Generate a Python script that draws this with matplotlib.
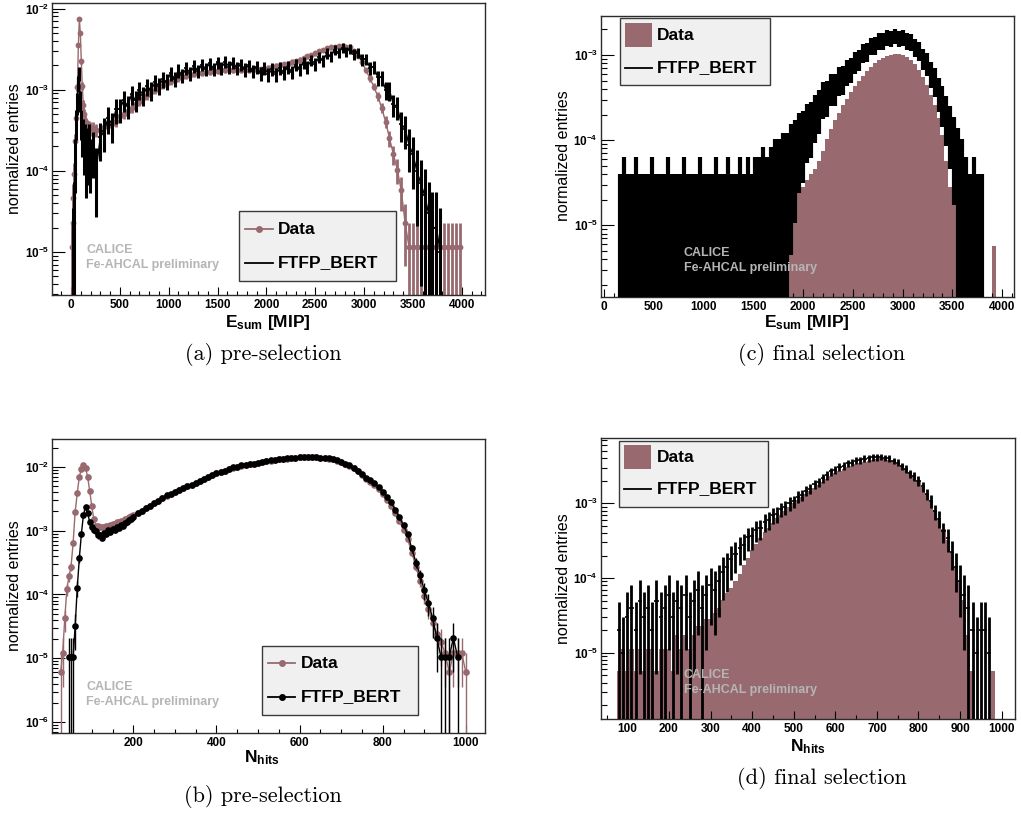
import numpy as np
import matplotlib
matplotlib.use('Agg')
import matplotlib.pyplot as plt
from matplotlib.patches import Rectangle
from matplotlib.lines import Line2D
from matplotlib.ticker import LogLocator, MultipleLocator, FuncFormatter, NullFormatter

plt.rcParams['font.family'] = 'Liberation Sans'
plt.rcParams['font.weight'] = 'bold'
plt.rcParams['mathtext.fontset'] = 'custom'
plt.rcParams['mathtext.rm'] = 'Liberation Sans:bold'
plt.rcParams['mathtext.bf'] = 'Liberation Sans:bold'
plt.rcParams['mathtext.it'] = 'Liberation Sans:bold'

DATA_COL = '#986a6f'

# ---------------- (a) E_sum, pre-selection ----------------
a_x = np.concatenate([np.arange(5, 200, 10), np.arange(220, 4000, 40)])
a_hw = np.concatenate([np.full(20, 5.0), np.full(95, 20.0)])
a_data_unit = 1.15e-5
a_data = [1, 2, 4, 8, 20, 39, 93, 310, 640, 435, 195, 97, 57, 43, 36, 33, 31, 30, 30, 29,
          29, 28, 28, 30, 31, 33, 36, 41, 44, 47,
          52, 58, 62, 69, 74, 81, 87, 93, 98, 105,
          110, 115, 120, 123, 129, 132, 135, 138, 141, 145,
          145, 148, 148, 150, 151, 151, 151, 150, 151, 150,
          151, 152, 155, 155, 158, 162, 166, 170, 174, 178,
          182, 191, 195, 204, 214, 224, 234, 245, 257, 269,
          282, 288, 295, 302, 302, 295, 288, 263, 229, 191,
          150, 120, 95, 72, 52, 35, 22, 14, 9, 5,
          2, 1, 1, 1, 1, 1, 1, 1, 1, 1,
          1, 1, 1, 1, 1]
a_mc_unit = 1.0e-5
a_mc_err_scale = 2.5   # weighted MC: errors larger than plain sqrt(N)
a_mc = [0, 0, 1, 3, 15, 40, 70, 120, 158, 75, 40, 28, 30, 20, 25, 14, 22, 17, 25, 15,
        19, 11, 26, 31, 45, 37, 57, 58, 74, 63,
        88, 74, 99, 86, 110, 98, 124, 112, 134, 126,
        160, 136, 172, 150, 184, 160, 196, 170, 204, 180,
        212, 182, 218, 188, 220, 190, 214, 184, 206, 178,
        200, 170, 192, 160, 186, 154, 180, 156, 184, 162,
        192, 166, 204, 182, 216, 192, 232, 208, 254, 230,
        280, 258, 310, 286, 330, 294, 320, 274, 288, 236,
        240, 186, 192, 142, 142, 100, 98, 66, 62, 38,
        33, 21, 16, 10, 7, 5, 3, 2, 2, 1,
        0, 0, 0, 0, 0]

# ---------------- (b) N_hits, pre-selection ----------------
b_x = np.concatenate([np.arange(20, 205, 5), np.arange(210, 1010, 10)])
b_hw = np.concatenate([np.full(37, 2.5), np.full(80, 5.0)])
b_data_unit = 6.0e-6
b_data = [0, 1, 2, 7, 20, 32, 45, 105, 330, 640, 1170, 1540, 1780, 1600, 1160, 700, 400,
          250, 200, 195, 190, 190, 190, 195, 200, 204, 209, 214, 224, 229, 234, 240,
          251, 257, 269, 282, 288,
          316, 339, 372, 407, 447, 490, 537, 589, 631, 676,
          724, 776, 832, 871, 933, 1000, 1072, 1148, 1230, 1318,
          1380, 1445, 1549, 1622, 1660, 1738, 1778, 1820, 1862, 1905,
          1995, 2042, 2089, 2138, 2188, 2188, 2239, 2291, 2291, 2344,
          2344, 2344, 2344, 2344, 2291, 2291, 2239, 2188, 2089, 1995,
          1862, 1738, 1585, 1413, 1259, 1080, 970, 860, 740, 620,
          510, 410, 315, 235, 172, 122, 75, 45, 27, 16,
          10, 6, 4, 3, 2, 1, 2, 2, 2, 1]
b_mc_unit = 1.05e-5
b_mc = [0, 0, 0, 0, 0, 1, 1, 1, 3, 12, 35, 85, 170, 225, 180, 130, 110,
        96, 94, 80, 82, 74, 86, 84, 96, 92, 102, 98, 108, 106, 116, 114,
        126, 132, 142, 146, 158,
        182, 195, 214, 234, 257, 282, 309, 339, 363, 389,
        416, 446, 478, 501, 537, 575, 616, 660, 707, 758,
        793, 831, 891, 933, 955, 1000, 1022, 1047, 1071, 1096,
        1148, 1175, 1202, 1230, 1259, 1259, 1288, 1318, 1318, 1349,
        1349, 1349, 1349, 1349, 1318, 1318, 1288, 1259, 1202, 1148,
        1071, 1000, 912, 813, 724, 646, 589, 525, 457, 389,
        324, 263, 204, 155, 115, 83, 50, 30, 19, 11,
        7, 4, 2, 1, 1, 1, 2, 1, 0, 0]

# ---------------- (c) E_sum, final selection ----------------
c_x = np.arange(160, 4000, 40)
c_hw = np.full(96, 20.0)
c_data_unit = 5.7e-6
c_data = [0, 0, 1, 0, 0, 0, 0, 0, 0, 0,
          0, 1, 0, 0, 0, 0, 0, 0, 0, 0,
          0, 0, 0, 1, 0, 0, 0, 0, 0, 0,
          0, 1, 0, 0, 1, 0, 1, 0, 2, 1,
          2, 2, 3, 3, 4, 5, 5, 6, 7, 8,
          10, 13, 18, 24, 30, 37, 45, 54, 64, 75,
          87, 100, 113, 126, 140, 152, 163, 172, 178, 182,
          182, 178, 168, 155, 138, 118, 98, 78, 60, 46,
          32, 20, 10, 5, 3, 0, 0, 0, 0, 0,
          1, 0, 0, 0, 1, 0]
c_mc_unit = 1.15e-5
c_mc_err_scale = 2.5
c_mc = [1, 2, 1, 1, 2, 1, 1, 1, 2, 1,
        1, 1, 2, 1, 1, 1, 2, 1, 1, 1,
        2, 1, 1, 1, 2, 1, 1, 2, 1, 1,
        2, 1, 2, 1, 2, 2, 3, 2, 3, 4,
        4, 5, 5, 7, 8, 10, 11, 14, 15, 19,
        22, 29, 30, 37, 37, 46, 47, 57, 60, 73,
        78, 94, 97, 113, 114, 129, 129, 141, 138, 147,
        139, 141, 129, 125, 109, 100, 80, 71, 54, 45,
        33, 25, 18, 13, 9, 6, 4, 2, 1, 2,
        1, 1, 0, 0, 0, 0]

# ---------------- (d) N_hits, final selection ----------------
d_x = np.arange(80, 1010, 10)
d_hw = np.full(93, 5.0)
d_data_unit = 5.7e-6
d_data = [1, 2, 1, 2, 1, 2, 1, 2, 2, 1,
          2, 2, 2, 1, 3, 2, 3, 2, 3, 4,
          4, 5, 5, 6, 7, 9, 11, 13, 16, 20,
          26, 33, 42, 50, 60, 72, 83, 96, 110, 123,
          138, 155, 175, 196, 215, 236, 259, 284, 312, 342,
          375, 411, 440, 472, 506, 530, 555, 581, 608, 622,
          651, 667, 682, 698, 682, 667, 637, 594, 555, 506,
          451, 402, 350, 291, 231, 184, 143, 105, 80, 57,
          39, 25, 16, 9, 3, 1, 0, 0, 0, 0,
          1, 0, 0]
d_mc_unit = 1.0e-5
d_mc_err_scale = 2.0
d_mc = [2, 1, 3, 4, 2, 5, 3, 4, 2, 5,
        3, 4, 6, 3, 5, 4, 6, 3, 5, 7,
        4, 6, 8, 7, 9, 12, 14, 18, 21, 25,
        28, 35, 36, 44, 46, 57, 60, 70, 72, 84,
        88, 100, 106, 122, 130, 148, 157, 181, 192, 218,
        236, 268, 281, 309, 318, 344, 351, 372, 376, 396,
        398, 414, 411, 420, 406, 399, 371, 349, 311, 289,
        251, 231, 201, 168, 132, 108, 78, 62, 42, 34,
        22, 14, 9, 6, 4, 2, 1, 2, 2, 1,
        0, 0, 0]

W, H = 1021, 814
fig = plt.figure(figsize=(W / 100, H / 100), dpi=100)


def fx(p):
    return p / W


def fy(p):
    return 1 - p / H


def make_ax(l, t, r, b, xlim, ylim, xmaj, xmin):
    ax = fig.add_axes([fx(l), fy(b), (r - l) / W, (b - t) / H])
    ax.set_yscale('log')
    ax.set_xlim(*xlim)
    ax.set_ylim(*ylim)
    ax.xaxis.set_major_locator(MultipleLocator(xmaj))
    ax.xaxis.set_minor_locator(MultipleLocator(xmin))
    ax.yaxis.set_major_locator(LogLocator(10, numticks=20))
    ax.yaxis.set_minor_locator(LogLocator(10, subs=np.arange(2, 10), numticks=20))
    ax.yaxis.set_major_formatter(FuncFormatter(lambda v, p: r'$10^{%d}$' % round(np.log10(v))))
    ax.yaxis.set_minor_formatter(NullFormatter())
    ax.tick_params(which='both', direction='in', top=False, right=False, width=0.8, labelsize=8.5)
    ax.tick_params(axis='y', which='major', length=9, pad=2)
    ax.tick_params(axis='y', which='minor', length=4.3)
    ax.tick_params(axis='x', which='major', length=5.8, pad=3)
    ax.tick_params(axis='x', which='minor', length=2.9)
    for s in ax.spines.values():
        s.set_linewidth(1.0)
        s.set_color('#2b2b2b')
    return ax


def draw_points(ax, x, hw, counts, unit, color, marker, ms, elw, z, connect, scale=1.0):
    c = np.asarray(counts, float)
    m = c > 0
    x, hw, c = x[m], hw[m], c[m]
    y = c * unit
    e = np.sqrt(c) * unit * scale
    lo = np.where(e >= y, y - 1e-12, e)
    ax.errorbar(x, y, xerr=hw, fmt='none', ecolor=color, elinewidth=min(elw, 1.2), zorder=z)
    ax.errorbar(x, y, yerr=[lo, e], fmt=marker, ms=ms, color=color, ecolor=color, mew=0,
                elinewidth=elw, capsize=1.5, capthick=1.0, zorder=z)
    if connect:
        ax.plot(x, y, color=color, lw=1.0, zorder=z)


def draw_fill(ax, x, hw, counts, unit, color):
    c = np.asarray(counts, float)
    y = np.where(c > 0, c * unit, 1e-12)
    edges = np.append(x - hw, x[-1] + hw[-1])
    ax.stairs(y, edges, fill=True, baseline=1e-12, color=color, lw=0, zorder=1)


def legend(box, rows):
    x0, y0, x1, y1 = box
    fig.add_artist(Rectangle((fx(x0), fy(y1)), (x1 - x0) / W, (y1 - y0) / H,
                             transform=fig.transFigure, fc='#f0f0f0', ec='#3a3a3a', lw=1.0, zorder=5))
    for kind, col, yy, sx0, sx1, tx, label in rows:
        if kind == 'box':
            fig.add_artist(Rectangle((fx(sx0), fy(yy + 12)), (sx1 - sx0) / W, 24 / H,
                                     transform=fig.transFigure, fc=col, ec='none', zorder=6))
        else:
            fig.add_artist(Line2D([fx(sx0), fx(sx1)], [fy(yy), fy(yy)], color=col, lw=1.3,
                                  transform=fig.transFigure, zorder=6))
            if kind == 'linedot':
                fig.add_artist(Line2D([fx((sx0 + sx1) / 2)], [fy(yy)], color=col, marker='o', ms=5,
                                      mew=0, transform=fig.transFigure, zorder=6))
        fig.text(fx(tx), fy(yy), label, fontsize=12.5, ha='left', va='center', zorder=7)


def calice(x, y):
    fig.text(fx(x), fy(y), 'CALICE', fontsize=9, color='#b5b5b5', va='center', zorder=8)
    fig.text(fx(x), fy(y + 15), 'Fe-AHCAL preliminary', fontsize=9, color='#b5b5b5', va='center', zorder=8)


def labels(yx, yy, xx, xy, xtext):
    fig.text(fx(yx), fy(yy), 'normalized entries', rotation=90, fontsize=11.5, weight='normal',
             ha='center', va='center')
    fig.text(fx(xx), fy(xy), xtext, fontsize=12.5, ha='center', va='center')


def caption(x, y, text):
    fig.text(fx(x), fy(y), text, family='cmr10', weight='normal', fontsize=16, ha='center', va='center')


# (a)
ax = make_ax(52, 3, 485, 295, (-195, 4238), (2.95e-6, 1.17e-2), 500, 100)
draw_points(ax, a_x, a_hw, a_data, a_data_unit, DATA_COL, 'o', 4.2, 2.0, 2, True)
draw_points(ax, a_x, a_hw, a_mc, a_mc_unit, 'black', 'none', 0, 2.2, 3, True, a_mc_err_scale)
legend((239, 211, 396, 281), [('linedot', DATA_COL, 229, 245, 273, 278, 'Data'),
                              ('line', 'black', 263, 245, 273, 278, 'FTFP_BERT')])
calice(86, 250)
labels(15, 149, 268, 323, r'$\mathrm{E_{sum}}$ [MIP]')
caption(263, 354, '(a) pre-selection')

# (c)
ax = make_ax(600.7, 15.7, 1014, 296.7, (-36, 4119), (1.45e-6, 2.9e-3), 500, 100)
draw_fill(ax, c_x, c_hw, c_data, c_data_unit, DATA_COL)
draw_points(ax, c_x, c_hw, c_mc, c_mc_unit, 'black', 'none', 0, 3.0, 3, False, c_mc_err_scale)
legend((620, 18, 770, 85), [('box', DATA_COL, 35, 625, 652, 657, 'Data'),
                            ('line', 'black', 68, 625, 652, 657, 'FTFP_BERT')])
calice(684, 253)
labels(563, 156, 807, 323, r'$\mathrm{E_{sum}}$ [MIP]')
caption(822, 354, '(c) final selection')

# (b)
ax = make_ax(52.3, 439.3, 485, 732.7, (5, 1046), (6.8e-7, 2.7e-2), 200, 50)
draw_points(ax, b_x, b_hw, b_data, b_data_unit, DATA_COL, 'o', 4.8, 1.0, 2, True)
draw_points(ax, b_x, b_hw, b_mc, b_mc_unit, 'black', 'o', 4.8, 1.0, 3, True)
legend((262, 646, 418, 715), [('linedot', DATA_COL, 663, 268, 295, 301, 'Data'),
                              ('linedot', 'black', 697, 268, 295, 301, 'FTFP_BERT')])
calice(86, 687)
labels(15, 586, 262, 758, r'$\mathrm{N_{hits}}$')
caption(263, 797, '(b) pre-selection')

# (d)
ax = make_ax(600.7, 438.3, 1015, 719, (36, 1032), (1.3e-6, 7.4e-3), 100, 50)
draw_fill(ax, d_x, d_hw, d_data, d_data_unit, DATA_COL)
draw_points(ax, d_x, d_hw, d_mc, d_mc_unit, 'black', 'none', 0, 2.0, 3, False, d_mc_err_scale)
legend((619, 441, 768, 507), [('box', DATA_COL, 457, 624, 651, 657, 'Data'),
                              ('line', 'black', 489, 624, 651, 657, 'FTFP_BERT')])
calice(684, 675)
labels(563, 579, 808, 747, r'$\mathrm{N_{hits}}$')
caption(822, 778, '(d) final selection')

fig.savefig('out.png', dpi=100)
